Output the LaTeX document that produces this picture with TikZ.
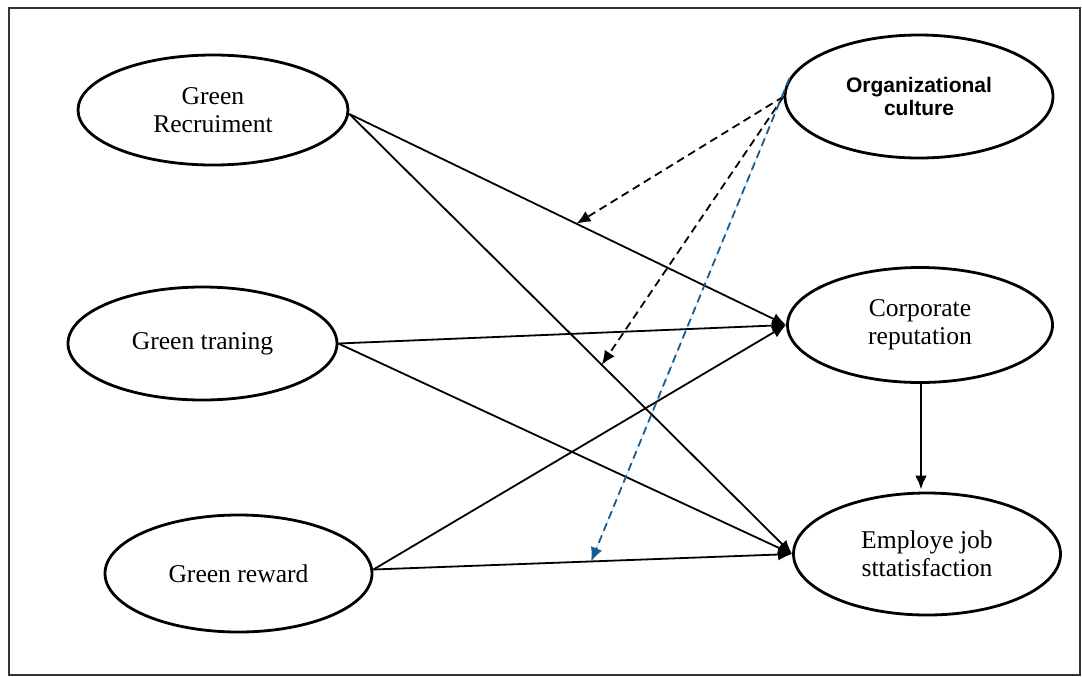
\documentclass[tikz,border=0pt]{standalone}
\usepackage{fontspec}
\setmainfont{Liberation Serif}
\newfontfamily\ocfont{Liberation Sans}
\usetikzlibrary{shapes.geometric,arrows.meta,positioning}
\definecolor{dashblue}{RGB}{20,92,145}

\begin{document}
\begin{tikzpicture}[x=0.5pt,y=-0.5pt,
  every node/.style={draw, ellipse, line width=1.4pt, inner sep=0pt, align=center,
    font=\fontsize{12.8}{14}\selectfont},
  link/.style={line width=0.9pt,-{Latex[length=7pt,width=6pt]}},
  dlink/.style={link,dash pattern=on 4pt off 2.5pt}]

  \useasboundingbox (0,0) rectangle (1082,676);
  \draw[line width=1.2pt,black!80] (9,8) rectangle (1080,675);

  % left column
  \node(GR)[minimum width=135pt,minimum height=55pt]   at (213,110)   {Green\\Recruiment};
  \node(GT)[minimum width=134.5pt,minimum height=56.5pt] at (202.5,343.5) {Green traning};
  \node(GW)[minimum width=133.5pt,minimum height=58.5pt] at (238.5,573.5) {Green reward};

  % right column
  \node(OC)[minimum width=134pt,minimum height=61.5pt,
    font=\ocfont\bfseries\fontsize{10.5}{11.5}\selectfont] at (919,96.5) {Organizational\\culture};
  \node(CR)[minimum width=132.5pt,minimum height=57.5pt] at (920,325)  {Corporate\\reputation};
  \node(JS)[minimum width=133.5pt,minimum height=61pt]   at (927,554)  {Employe job\\sttatisfaction};

  \draw[link] ([yshift=-2pt]GR.east) -- coordinate[pos=0.52] (m1) (CR.west);
  \draw[link] ([yshift=-2pt]GR.east) -- coordinate[pos=0.57] (m2) (JS.west);
  \draw[link] (GT.east) -- (CR.west);
  \draw[link] (GT.east) -- (JS.west);
  \draw[link] ([yshift=2pt]GW.east) -- (CR.west);
  \draw[link] ([yshift=2pt]GW.east) -- coordinate[pos=0.52] (m3) (JS.west);

  \draw[link,line width=1.4pt] (CR.south -| 921,0) -- ([yshift=1pt]JS.north -| 921,0);

  % moderator
  \draw[dlink] (OC.west) -- (m1);
  \draw[dlink] (OC.west) -- (m2);
  \draw[dlink,draw=dashblue,fill=dashblue] (OC.172) -- (m3);
\end{tikzpicture}
\end{document}
